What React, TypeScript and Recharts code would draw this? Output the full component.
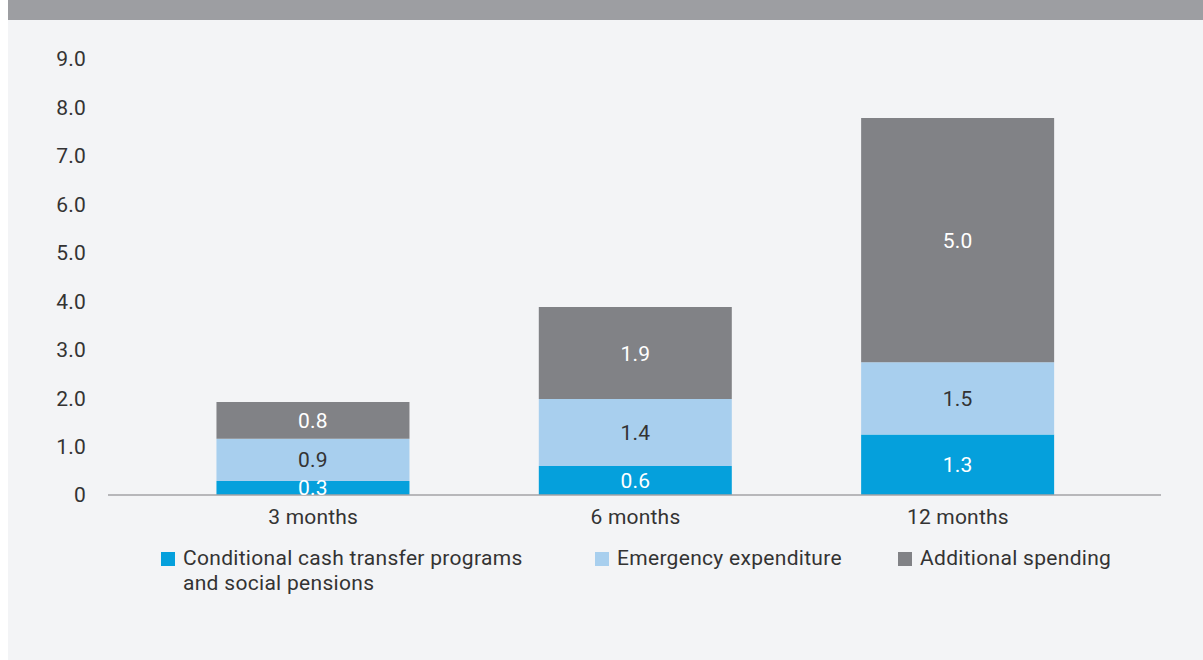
import { BarChart, Bar, XAxis, YAxis, LabelList } from 'recharts';

const categories = ['3 months', '6 months', '12 months'];
const cashTransfers = [0.29, 0.6, 1.25];
const emergency = [0.87, 1.38, 1.49];
const additional = [0.76, 1.9, 5.04];
const yTicks = [0, 1, 2, 3, 4, 5, 6, 7, 8, 9];

const data = categories.map((label, i) => ({
  label,
  cash: cashTransfers[i],
  emergency: emergency[i],
  additional: additional[i],
}));

const series = [
  { key: 'cash', name: 'Conditional cash transfer programs\nand social pensions', color: '#05a0dc', text: '#ffffff' },
  { key: 'emergency', name: 'Emergency expenditure', color: '#a8cfee', text: '#333333' },
  { key: 'additional', name: 'Additional spending', color: '#818286', text: '#ffffff' },
];

const legendX = [161, 595, 898];
const font = 'Roboto, sans-serif';
const textStyle = { fontSize: 21, fontFamily: font, letterSpacing: 0.2 };

export default function App() {
  return (
    <div style={{ position: 'absolute', left: 0, top: 0, width: 1203, height: 660, background: '#fff', fontFamily: font }}>
      <div style={{ position: 'absolute', left: 8, top: 0, width: 1195, height: 20, background: '#9d9ea2' }} />
      <div style={{ position: 'absolute', left: 8, top: 20, width: 1195, height: 640, background: '#f3f4f6' }}>
        <BarChart
          width={1195}
          height={640}
          data={data}
          margin={{ top: 39, right: 42, bottom: 135, left: 0 }}
          barCategoryGap='20%'
        >
          <XAxis
            dataKey='label'
            height={30}
            padding={{ left: 44, right: 42 }}
            axisLine={{ stroke: '#a3a3a6', strokeWidth: 1.5 }}
            tickLine={false}
            tickMargin={8}
            tick={{ fill: '#333', ...textStyle }}
          />
          <YAxis
            width={100}
            domain={[0, 9]}
            ticks={yTicks}
            interval={0}
            axisLine={false}
            tickLine={false}
            tickMargin={16}
            tickFormatter={(v: number) => (v === 0 ? '0' : v.toFixed(1))}
            tick={{ fill: '#333', ...textStyle }}
          />
          {series.map((s) => (
            <Bar key={s.key} dataKey={s.key} stackId='a' fill={s.color} isAnimationActive={false}>
              <LabelList
                dataKey={s.key}
                position='center'
                formatter={(v: any) => Number(v).toFixed(1)}
                style={{ fill: s.text, ...textStyle }}
              />
            </Bar>
          ))}
        </BarChart>
      </div>
      {series.map((s, i) => (
        <div key={s.key} style={{ position: 'absolute', left: legendX[i], top: 546, display: 'flex', alignItems: 'flex-start' }}>
          <div style={{ width: 14, height: 14, background: s.color, marginTop: 6, marginRight: 8 }} />
          <div style={{ fontSize: 21, letterSpacing: 0.3, lineHeight: '25px', color: '#333', whiteSpace: 'pre' }}>{s.name}</div>
        </div>
      ))}
    </div>
  );
}
